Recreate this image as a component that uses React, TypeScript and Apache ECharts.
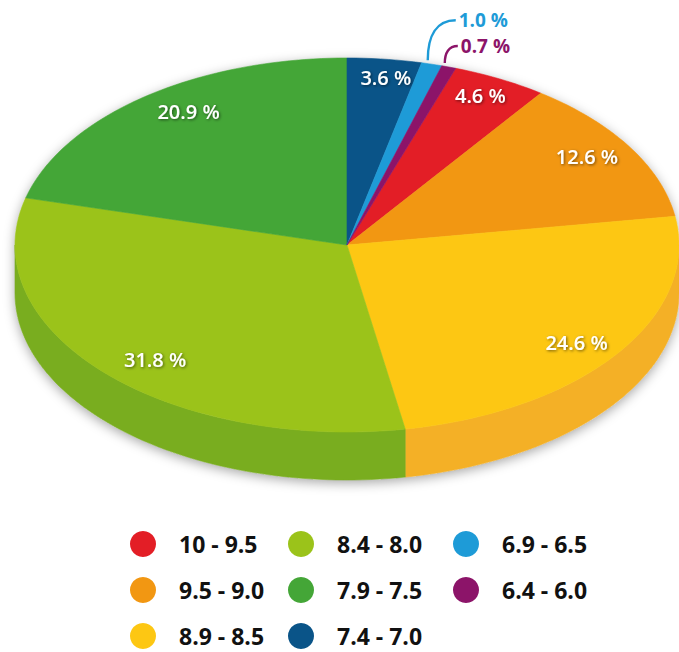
import React, { useEffect, useRef } from 'react';
import * as echarts from 'echarts';

// ---- data ----
const categories = ['10 - 9.5', '9.5 - 9.0', '8.9 - 8.5', '8.4 - 8.0', '7.9 - 7.5', '7.4 - 7.0', '6.9 - 6.5', '6.4 - 6.0'];
const shares = [4.6, 12.6, 24.6, 31.8, 20.9, 3.6, 1.0, 0.7];
const firstAtTop = '7.4 - 7.0';

// ---- style ----
const topColors = ['#e31e26', '#f29712', '#fdc713', '#9bc31a', '#44a637', '#0a5488', '#1e9bd7', '#8c1469'];
const sideColors = ['#c01a21', '#d8850f', '#f4b026', '#79ad1f', '#3a8e2f', '#084670', '#1883b8', '#740f57'];
const legendColumns = [[0, 1, 2], [3, 4, 5], [6, 7]];
const legendLefts = [130, 288, 453];
const leaders = [{ run: 28, lift: 40 }, { run: 13, lift: 17 }];

const CX = 347, CY = 245, RX = 332, RY = 187, DEPTH = 48;

export default function App() {
  const ref = useRef<HTMLDivElement>(null);
  useEffect(() => {
    document.body.style.margin = '0';
    const chart = echarts.init(ref.current!, null, { renderer: 'svg' });
    const total = shares.reduce((s, v) => s + v, 0);
    const firstIdx = categories.indexOf(firstAtTop);
    let before = 0;
    for (let i = 0; i < firstIdx; i++) before += shares[i];
    const start = 360 - (before / total) * 360;
    const bounds: number[] = [start];
    let acc = start;
    shares.forEach((v) => { acc += (v / total) * 360; bounds.push(acc); });

    const rad = (d: number) => (d * Math.PI) / 180;
    const pt = (deg: number, dy = 0) => [CX + RX * Math.sin(rad(deg)), CY - RY * Math.cos(rad(deg)) + dy];
    const arc = (a: number, b: number, dy = 0) => {
      const n = Math.max(2, Math.ceil(Math.abs(b - a) / 1.5));
      const out: number[][] = [];
      for (let i = 0; i <= n; i++) out.push(pt(a + ((b - a) * i) / n, dy));
      return out;
    };
    const smallIdx = shares.map((v, i) => (v < 2 ? i : -1)).filter((i) => i >= 0);

    const sideRender = (params: any) => {
      const i = params.dataIndex;
      const a = bounds[i], b = bounds[i + 1];
      const children: any[] = [];
      for (const [f0, f1] of [[90, 270], [450, 630]]) {
        const lo = Math.max(a, f0), hi = Math.min(b, f1);
        if (hi > lo) {
          children.push({
            type: 'polygon',
            shape: { points: arc(lo, hi).concat(arc(lo, hi, DEPTH).reverse()) },
            style: { fill: sideColors[i], stroke: sideColors[i], lineWidth: 0.6 },
          });
        }
      }
      return { type: 'group', children };
    };

    const topRender = (params: any, api: any) => {
      const i = params.dataIndex;
      const v = api.value(0);
      const a = bounds[i], b = bounds[i + 1];
      const m = (a + b) / 2;
      const children: any[] = [
        {
          type: 'polygon',
          shape: { points: [[CX, CY]].concat(arc(a, b)) },
          style: { fill: topColors[i], stroke: topColors[i], lineWidth: 0.6 },
        },
      ];
      const txt = v.toFixed(1) + ' %';
      if (v >= 2) {
        children.push({
          type: 'text',
          z2: 20,
          x: CX + 8 + 0.82 * RX * Math.sin(rad(m)),
          y: CY - 0.9 * RY * Math.cos(rad(m)),
          style: {
            text: txt, fill: '#ffffff', fontSize: 20, fontWeight: 600, fontFamily: 'Open Sans',
            align: 'center', verticalAlign: 'middle',
            textShadowColor: 'rgba(0,0,0,0.55)', textShadowBlur: 3, textShadowOffsetX: 1, textShadowOffsetY: 1,
          },
        });
      } else {
        const k = smallIdx.indexOf(i);
        const ld = leaders[k] || { run: 20, lift: 20 };
        const p = pt(m);
        const sx = p[0] - 4, sy = p[1] - 4;
        const ex = sx + ld.run, ey = sy - ld.lift;
        children.push({
          type: 'bezierCurve',
          z2: 20,
          shape: { x1: sx, y1: sy, cpx1: sx, cpy1: sy - (sy - ey) * 0.6, cpx2: sx + (ex - sx) * 0.3, cpy2: ey, x2: ex, y2: ey },
          style: { stroke: topColors[i], lineWidth: 2.4, fill: 'none' },
        });
        children.push({
          type: 'text',
          z2: 20,
          x: ex + 3,
          y: ey,
          style: {
            text: txt, fill: topColors[i], fontSize: 19, fontWeight: 'bold', fontFamily: 'Open Sans',
            align: 'left', verticalAlign: 'middle',
          },
        });
      }
      return { type: 'group', children };
    };

    const option: any = {
      animation: false,
      backgroundColor: '#ffffff',
      graphic: [
        {
          type: 'polygon',
          z: 1,
          silent: true,
          shape: { points: arc(-90, 90).concat(arc(90, 270, DEPTH)) },
          style: { fill: '#e8e8e8', shadowBlur: 12, shadowColor: 'rgba(0,0,0,0.35)', shadowOffsetY: 3 },
        },
      ],
      legend: legendColumns.map((col, c) => ({
        orient: 'vertical',
        left: legendLefts[c],
        top: 531,
        height: 130,
        padding: 0,
        itemWidth: 26,
        itemHeight: 26,
        itemGap: 20,
        icon: 'circle',
        selectedMode: false,
        data: col.map((i) => categories[i]),
        textStyle: { fontSize: 23, lineHeight: 26, fontWeight: 'bold', color: '#111111', fontFamily: 'Open Sans', padding: [0, 0, 0, 18] },
      })),
      series: [
        {
          type: 'pie',
          center: [-2000, -2000],
          radius: 10,
          silent: true,
          label: { show: false },
          data: categories.map((n, i) => ({ name: n, value: shares[i], itemStyle: { color: topColors[i] } })),
        },
        {
          type: 'custom',
          name: 'side',
          coordinateSystem: 'none',
          z: 2,
          silent: true,
          renderItem: sideRender,
          data: shares.map((v) => [v]),
        },
        {
          type: 'custom',
          name: 'top',
          coordinateSystem: 'none',
          z: 3,
          silent: true,
          renderItem: topRender,
          data: shares.map((v) => [v]),
        },
      ],
    };
    chart.setOption(option);
    return () => chart.dispose();
  }, []);
  return <div ref={ref} style={{ width: 679, height: 652 }} />;
}
